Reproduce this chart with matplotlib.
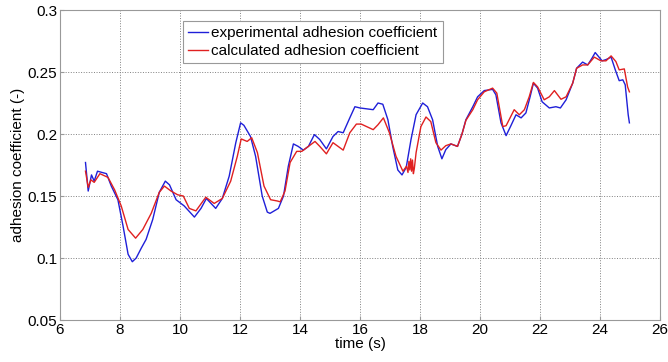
import numpy as np
import matplotlib.pyplot as plt

plt.rcParams['font.family'] = ['Liberation Sans', 'DejaVu Sans']

# experimental adhesion coefficient
t_exp = [6.85, 6.94, 7.05, 7.14, 7.25, 7.55, 7.71, 7.93, 8.10, 8.27, 8.41, 8.54, 8.71, 8.87,
         9.09, 9.31, 9.51, 9.65, 9.87, 10.14, 10.48, 10.70, 10.88, 11.19, 11.41, 11.64, 11.86,
         12.02, 12.13, 12.35, 12.52, 12.74, 12.91, 13.00, 13.28, 13.45, 13.61, 13.78, 13.94,
         14.11, 14.28, 14.48, 14.66, 14.88, 15.10, 15.27, 15.44, 15.66, 15.83, 16.00, 16.44,
         16.60, 16.76, 16.93, 17.09, 17.26, 17.40, 17.54, 17.70, 17.87, 18.09, 18.25, 18.42,
         18.59, 18.73, 18.86, 19.03, 19.25, 19.40, 19.53, 19.76, 19.92, 20.14, 20.42, 20.53,
         20.70, 20.87, 21.03, 21.20, 21.37, 21.53, 21.67, 21.78, 21.92, 22.07, 22.31, 22.53,
         22.68, 22.87, 23.09, 23.22, 23.42, 23.59, 23.73, 23.84, 24.07, 24.20, 24.37, 24.51,
         24.64, 24.76, 24.84, 24.89, 24.94, 24.98]
mu_exp = [0.177, 0.154, 0.167, 0.162, 0.170, 0.168, 0.158, 0.147, 0.126, 0.103, 0.097, 0.100,
          0.108, 0.115, 0.131, 0.153, 0.162, 0.159, 0.147, 0.142, 0.133, 0.140, 0.148, 0.140,
          0.148, 0.166, 0.193, 0.209, 0.207, 0.198, 0.182, 0.150, 0.137, 0.136, 0.140, 0.150,
          0.174, 0.192, 0.190, 0.187, 0.190, 0.1995, 0.1955, 0.188, 0.198, 0.202, 0.201, 0.213,
          0.222, 0.221, 0.2196, 0.225, 0.224, 0.2115, 0.190, 0.171, 0.167, 0.173, 0.1955,
          0.2156, 0.225, 0.222, 0.2115, 0.190, 0.180, 0.1874, 0.192, 0.190, 0.200, 0.2115,
          0.222, 0.230, 0.235, 0.236, 0.2316, 0.209, 0.1987, 0.2067, 0.2155, 0.213, 0.217,
          0.230, 0.241, 0.237, 0.226, 0.221, 0.222, 0.221, 0.2276, 0.241, 0.253, 0.258,
          0.2557, 0.261, 0.2657, 0.259, 0.260, 0.262, 0.2517, 0.243, 0.2437, 0.2397, 0.2276,
          0.2155, 0.209]

# calculated adhesion coefficient
t_calc = [6.85, 6.94, 7.03, 7.14, 7.33, 7.60, 7.82, 8.04, 8.27, 8.52, 8.76, 9.04, 9.31, 9.48,
          9.70, 9.92, 10.11, 10.31, 10.53, 10.86, 11.14, 11.41, 11.69, 11.91, 12.04, 12.24,
          12.39, 12.58, 12.80, 13.02, 13.24, 13.34, 13.50, 13.67, 13.89, 14.06, 14.28, 14.50,
          14.66, 14.88, 15.10, 15.44, 15.66, 15.88, 16.04, 16.44, 16.60, 16.78, 16.98, 17.20,
          17.43, 17.55, 17.60, 17.63, 17.66, 17.69, 17.72, 17.75, 17.78, 17.81, 17.87, 18.03,
          18.20, 18.36, 18.53, 18.70, 18.86, 19.03, 19.25, 19.40, 19.53, 19.76, 19.92, 20.14,
          20.42, 20.56, 20.76, 20.87, 21.14, 21.31, 21.48, 21.64, 21.78, 21.92, 22.14, 22.31,
          22.48, 22.70, 22.87, 23.09, 23.22, 23.42, 23.59, 23.81, 24.03, 24.20, 24.37, 24.53,
          24.64, 24.81, 24.92, 24.98]
mu_calc = [0.170, 0.157, 0.163, 0.161, 0.168, 0.165, 0.155, 0.142, 0.123, 0.116, 0.123, 0.136,
           0.153, 0.158, 0.154, 0.151, 0.150, 0.140, 0.138, 0.149, 0.144, 0.148, 0.162, 0.182,
           0.196, 0.194, 0.197, 0.185, 0.158, 0.147, 0.146, 0.1453, 0.154, 0.177, 0.186, 0.186,
           0.190, 0.194, 0.190, 0.184, 0.193, 0.187, 0.201, 0.208, 0.208, 0.2035, 0.2075, 0.213,
           0.201, 0.182, 0.170, 0.174, 0.169, 0.178, 0.171, 0.180, 0.170, 0.179, 0.168, 0.172,
           0.185, 0.206, 0.2137, 0.210, 0.193, 0.187, 0.1906, 0.192, 0.190, 0.200, 0.211,
           0.2196, 0.2276, 0.234, 0.237, 0.233, 0.206, 0.2067, 0.2196, 0.2155, 0.2196, 0.230,
           0.2416, 0.238, 0.2276, 0.230, 0.235, 0.228, 0.230, 0.241, 0.253, 0.2557, 0.2557,
           0.262, 0.259, 0.259, 0.263, 0.2584, 0.2517, 0.2525, 0.238, 0.234]

x_ticks = [6, 8, 10, 12, 14, 16, 18, 20, 22, 24, 26]
y_ticks = [0.05, 0.1, 0.15, 0.2, 0.25, 0.3]
y_tick_labels = ["0.05", "0.1", "0.15", "0.2", "0.25", "0.3"]

fig = plt.figure(figsize=(6.68, 3.62), dpi=100)
ax = fig.add_axes([60 / 668, 42 / 362, 600 / 668, 310 / 362])

ax.plot(t_exp, mu_exp, color="#1f1fd8", lw=1.0, label="experimental adhesion coefficient")
ax.plot(t_calc, mu_calc, color="#e02020", lw=1.0, label="calculated adhesion coefficient")

ax.set_xlim(6, 26)
ax.set_ylim(0.05, 0.3)
ax.set_xticks(x_ticks)
ax.set_yticks(y_ticks)
ax.set_yticklabels(y_tick_labels)
ax.grid(True, linestyle=":", color="#808080", lw=0.7)
for s in ax.spines.values():
    s.set_color("#999999")
ax.tick_params(direction="in", length=3, color="#999999", labelsize=11, pad=2)
ax.set_xlabel("time (s)", fontsize=11, labelpad=0)
ax.set_ylabel("adhesion coefficient (-)", fontsize=11, labelpad=2)

leg = ax.legend(loc="upper left", bbox_to_anchor=(0.205, 0.965), borderaxespad=0,
                fontsize=11, fancybox=False, framealpha=1, handlelength=1.3,
                handletextpad=0.2, borderpad=0.35, labelspacing=0.25)
leg.get_frame().set_edgecolor("#999999")
leg.get_frame().set_linewidth(0.8)

fig.savefig("out.png", dpi=100)
